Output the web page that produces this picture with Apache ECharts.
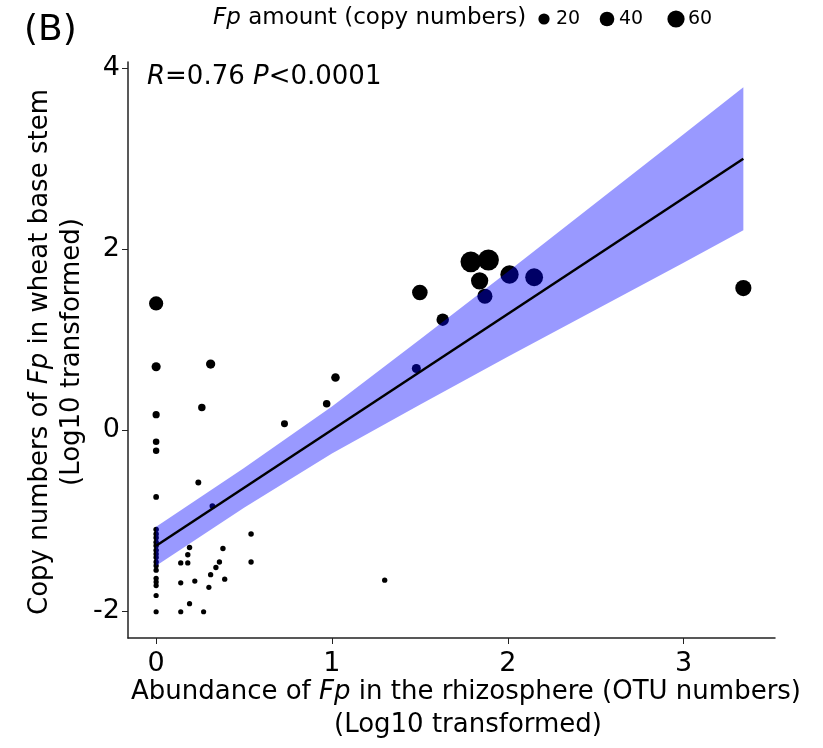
<!DOCTYPE html>
<html>
<head>
<meta charset="utf-8">
<script src="https://cdn.jsdelivr.net/npm/echarts@6/dist/echarts.min.js"></script>
<style>
    html, body { margin: 0; padding: 0; background: #fff; }
    #chart { width: 823px; height: 748px; }
</style>
</head>
<body>
<div id="chart"></div>
<script>
// log10 abundance in rhizosphere (x) vs log10 copy numbers in stem (y)
var pointX = [0, 0, 0.31, 0, 0.26, 0, 0, 0.24, 0, 0.32,
    0, 0, 0, 0, 0, 0, 0, 0, 0, 0, 0, 0, 0, 0, 0, 0,
    0.19, 0.18, 0.14, 0.18, 0.14, 0.22, 0.19, 0.14, 0.27,
    0.38, 0.36, 0.34, 0.31, 0.30, 0.39, 0.54, 0.54, 1.30,
    0.73, 0.97, 1.02, 1.48, 1.50, 1.63, 1.79, 1.89, 1.84, 1.87, 2.01, 2.15, 3.34];
var pointY = [1.40, 0.70, 0.73, 0.17, 0.25, -0.13, -0.23, -0.58, -0.74, -0.84,
    -1.10, -1.15, -1.19, -1.24, -1.28, -1.33, -1.37, -1.41, -1.46, -1.50, -1.55, -1.64, -1.68, -1.72, -1.83, -2.01,
    -1.30, -1.38, -1.47, -1.47, -1.69, -1.67, -1.92, -2.01, -2.01,
    -1.31, -1.46, -1.52, -1.60, -1.74, -1.65, -1.15, -1.46, -1.66,
    0.07, 0.29, 0.58, 0.68, 1.52, 1.22, 1.86, 1.88, 1.65, 1.48, 1.72, 1.69, 1.57];

// fitted line and its confidence band
var fitX = [0, 3.34];
var fitY = [-1.28, 3.0];
var bandX = [0, 0.5, 1, 1.5, 2, 2.5, 3, 3.34];
var bandLow = [-1.50, -0.86, -0.26, 0.28, 0.81, 1.33, 1.85, 2.21];
var bandHigh = [-1.07, -0.42, 0.26, 1.00, 1.75, 2.51, 3.27, 3.79];

var xTicks = [0, 1, 2, 3];
var yTicks = [-2, 0, 2, 4];
var legendAmounts = [20, 40, 60];

var FONT = "DejaVu Sans";
var maxAmount = 76;

// point diameter from copy number (area scale like ggplot)
function amountSize(a)
{
    return 5 + 16 * Math.sqrt(a / maxAmount);
}

var scatterData = [];
for (var i = 0; i < pointX.length; i++)
{
    scatterData.push([pointX[i], pointY[i]]);
}

var bandData = [];
for (var i = 0; i < bandX.length; i++)
{
    bandData.push([bandX[i], bandLow[i], bandHigh[i]]);
}

var fitData = [];
for (var i = 0; i < fitX.length; i++)
{
    fitData.push([fitX[i], fitY[i]]);
}

// whole band as one polygon, drawn once
function renderBand(params, api)
{
    if (params.dataIndex != 0)
        return null;
    var pts = [];
    for (var i = 0; i < bandX.length; i++)
        pts.push(api.coord([bandX[i], bandHigh[i]]));
    for (var i = bandX.length - 1; i >= 0; i--)
        pts.push(api.coord([bandX[i], bandLow[i]]));
    return {
        type: "polygon",
        shape: { points: pts },
        style: { fill: "rgba(0,0,255,0.4)" }
    };
}

function italicRich(size)
{
    return { i: { fontStyle: "italic", fontSize: size, fontFamily: FONT } };
}

var graphics = [
    {
        type: "text", left: 24, top: 13,
        style: { text: "(B)", font: "36px " + FONT, fill: "#000" }
    },
    {
        type: "text", x: 213, y: 18,
        style: {
            text: "{i|Fp} amount (copy numbers)",
            font: "23px " + FONT, fill: "#000", verticalAlign: "middle",
            rich: italicRich(23)
        }
    },
    {
        type: "text", x: 147, y: 77,
        style: {
            text: "{i|R}=0.76 {i|P}<0.0001",
            font: "26px " + FONT, fill: "#000", verticalAlign: "middle",
            rich: italicRich(26)
        }
    },
    {
        type: "text", x: 466, y: 692,
        style: {
            text: "Abundance of {i|Fp} in the rhizosphere (OTU numbers)",
            font: "26px " + FONT, fill: "#000", align: "center", verticalAlign: "middle",
            rich: italicRich(26)
        }
    },
    {
        type: "text", x: 468, y: 725,
        style: {
            text: "(Log10 transformed)",
            font: "26px " + FONT, fill: "#000", align: "center", verticalAlign: "middle"
        }
    },
    {
        type: "text", x: 40, y: 352, rotation: Math.PI / 2,
        style: {
            text: "Copy numbers of {i|Fp} in wheat base stem",
            font: "26px " + FONT, fill: "#000", align: "center", verticalAlign: "middle",
            rich: italicRich(26)
        }
    },
    {
        type: "text", x: 72, y: 352, rotation: Math.PI / 2,
        style: {
            text: "(Log10 transformed)",
            font: "26px " + FONT, fill: "#000", align: "center", verticalAlign: "middle"
        }
    }
];

// size legend: circles + labels
var legendPos = [544, 607, 676];
for (var i = 0; i < legendAmounts.length; i++)
{
    graphics.push({
        type: "circle",
        shape: { cx: legendPos[i], cy: 19, r: amountSize(legendAmounts[i]) / 2 - 1 },
        style: { fill: "#000" }
    });
    graphics.push({
        type: "text", x: legendPos[i] + 12, y: 19,
        style: { text: String(legendAmounts[i]), font: "19px " + FONT, fill: "#000", verticalAlign: "middle" }
    });
}

var chart = echarts.init(document.getElementById("chart"));
var option = {
    animation: false,
    backgroundColor: "#fff",
    grid: { left: 128, right: 48, top: 62, bottom: 110, containLabel: false, outerBoundsMode: "none" },
    xAxis: {
        type: "value", min: -0.16, max: 3.52,
        splitLine: { show: false },
        axisLine: { onZero: false, lineStyle: { color: "#222", width: 1.5 } },
        axisTick: { customValues: xTicks, length: 6, lineStyle: { color: "#222" } },
        axisLabel: { customValues: xTicks, color: "#000", fontSize: 27, fontFamily: FONT, margin: 12 }
    },
    yAxis: {
        type: "value", min: -2.3, max: 4.07,
        splitLine: { show: false },
        axisLine: { show: true, onZero: false, lineStyle: { color: "#222", width: 1.5 } },
        axisTick: { show: true, customValues: yTicks, length: 6, lineStyle: { color: "#222" } },
        axisLabel: { customValues: yTicks, color: "#000", fontSize: 27, fontFamily: FONT, margin: 8 }
    },
    graphic: graphics,
    series: [
        {
            type: "scatter", z: 2,
            data: scatterData,
            symbolSize: function (v) { return amountSize(Math.pow(10, v[1])); },
            itemStyle: { color: "#000", opacity: 1 }
        },
        {
            type: "custom", z: 3,
            data: bandData,
            renderItem: renderBand,
            silent: true
        },
        {
            type: "line", z: 4,
            data: fitData, showSymbol: false, symbol: "none",
            lineStyle: { color: "#000", width: 2.5 }
        }
    ]
};
chart.setOption(option);
</script>
</body>
</html>
